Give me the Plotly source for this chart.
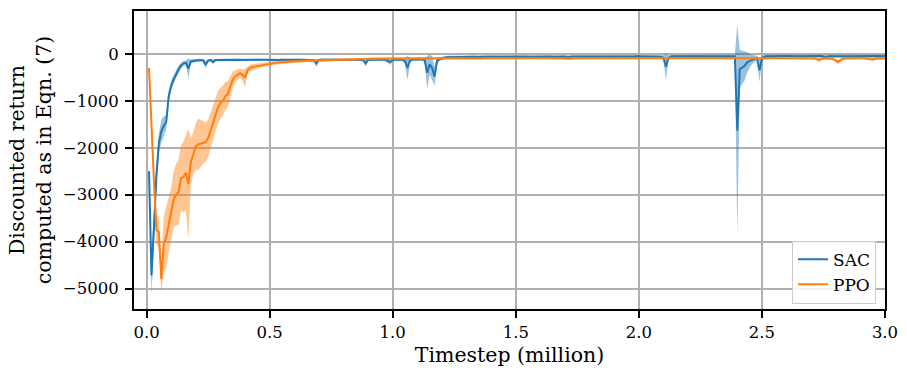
import numpy as np
import plotly.graph_objects as go

# evaluation timesteps (million), every 0.01M from 0.01 to 3.00
timesteps = [round(0.01 * i, 2) for i in range(1, 301)]

sac_mean = [
    -2500, -4720, -3700, -2600, -1900, -1650, -1530, -1450, -900, -680,
    -540, -420, -330, -250, -200, -190, -310, -160, -145, -140,
    -132, -130, -135, -230, -140, -130, -170, -130, -128, -126,
    -125, -127, -124, -126, -125, -128, -124, -125, -127, -124,
    -125, -126, -123, -127, -125, -124, -126, -128, -125, -127,
    -126, -124, -125, -127, -124, -126, -125, -123, -126, -125,
    -124, -126, -125, -123, -127, -125, -140, -135, -200, -130,
    -125, -123, -126, -124, -122, -125, -123, -124, -126, -122,
    -123, -121, -124, -122, -120, -123, -125, -130, -200, -125,
    -120, -122, -118, -121, -119, -122, -125, -150, -170, -130,
    -120, -118, -122, -125, -150, -300, -140, -120, -118, -115,
    -118, -115, -130, -400, -220, -300, -480, -150, -110, -90,
    -80, -70, -68, -65, -66, -64, -65, -63, -62, -64,
    -62, -63, -61, -64, -60, -62, -63, -61, -60, -62,
    -61, -60, -62, -59, -61, -60, -58, -60, -61, -59,
    -58, -57, -59, -56, -57, -55, -58, -56, -55, -57,
    -55, -56, -54, -55, -57, -54, -56, -53, -55, -54,
    -70, -54, -53, -55, -52, -54, -53, -52, -54, -53,
    -52, -53, -51, -52, -54, -51, -52, -50, -53, -51,
    -50, -52, -51, -50, -49, -51, -50, -52, -49, -50,
    -49, -50, -51, -49, -50, -48, -50, -49, -60, -80,
    -270, -90, -55, -50, -49, -51, -50, -48, -49, -50,
    -49, -48, -50, -49, -47, -49, -48, -50, -48, -47,
    -48, -47, -49, -48, -47, -48, -46, -48, -50, -1630,
    -320, -290, -250, -180, -150, -120, -100, -90, -350, -100,
    -60, -50, -48, -49, -47, -48, -46, -48, -47, -49,
    -47, -46, -48, -47, -46, -48, -47, -46, -48, -47,
    -46, -47, -48, -46, -55, -70, -50, -47, -46, -48,
    -47, -46, -48, -47, -46, -45, -47, -46, -48, -47,
    -46, -47, -45, -46, -48, -47, -46, -45, -47, -46,
]

sac_std = [
    60, 420, 350, 250, 200, 250, 200, 150, 120, 100,
    90, 90, 80, 60, 50, 50, 220, 40, 35, 30,
    30, 30, 30, 80, 30, 30, 50, 25, 25, 25,
    24, 22, 23, 25, 22, 24, 23, 22, 24, 23,
    22, 24, 23, 22, 24, 23, 22, 24, 23, 22,
    24, 23, 22, 24, 23, 22, 24, 23, 22, 24,
    23, 22, 24, 23, 25, 24, 40, 30, 80, 30,
    24, 23, 22, 24, 23, 22, 24, 23, 22, 24,
    23, 22, 24, 23, 22, 24, 26, 30, 70, 30,
    24, 23, 22, 24, 23, 22, 30, 50, 60, 35,
    26, 24, 25, 30, 60, 260, 50, 30, 26, 25,
    26, 25, 60, 350, 220, 250, 200, 80, 40, 35,
    32, 30, 30, 28, 30, 28, 30, 28, 30, 29,
    30, 28, 30, 29, 28, 30, 29, 28, 30, 28,
    29, 30, 28, 30, 29, 28, 30, 28, 29, 30,
    28, 29, 30, 28, 29, 30, 28, 29, 30, 28,
    29, 30, 28, 29, 30, 28, 29, 30, 28, 29,
    40, 28, 29, 30, 28, 29, 30, 28, 29, 30,
    28, 29, 30, 28, 29, 30, 28, 29, 30, 28,
    29, 30, 28, 29, 30, 28, 29, 30, 28, 29,
    30, 28, 29, 30, 28, 29, 30, 28, 35, 50,
    290, 60, 32, 30, 28, 29, 30, 28, 29, 30,
    28, 29, 30, 28, 29, 30, 28, 29, 30, 28,
    29, 30, 28, 29, 30, 28, 29, 30, 35, 2260,
    405, 360, 310, 220, 150, 100, 70, 50, 250, 60,
    40, 32, 30, 28, 29, 30, 28, 29, 30, 28,
    29, 30, 28, 29, 30, 28, 29, 30, 28, 29,
    30, 28, 29, 30, 35, 45, 30, 28, 29, 30,
    28, 29, 30, 28, 29, 30, 28, 29, 30, 28,
    29, 30, 28, 29, 30, 28, 29, 30, 28, 29,
]

ppo_mean = [
    -300, -1700, -2700, -3750, -3800, -4800, -4050, -3900, -3650, -3400,
    -3100, -3000, -2950, -2650, -2620, -2530, -2770, -2300, -2120, -1970,
    -1930, -1910, -1890, -1880, -1800, -1650, -1480, -1300, -1140, -1050,
    -1000, -900, -860, -700, -550, -480, -440, -410, -450, -510,
    -350, -300, -280, -270, -260, -250, -230, -220, -210, -200,
    -195, -190, -185, -180, -178, -175, -170, -168, -165, -160,
    -155, -150, -148, -145, -142, -140, -138, -135, -133, -130,
    -128, -127, -125, -124, -122, -120, -119, -118, -117, -116,
    -115, -114, -112, -110, -110, -108, -107, -106, -105, -104,
    -103, -102, -100, -100, -99, -98, -97, -97, -96, -95,
    -95, -94, -96, -93, -95, -94, -92, -95, -93, -94,
    -92, -94, -93, -95, -92, -94, -93, -92, -94, -93,
    -92, -93, -94, -92, -93, -91, -93, -92, -94, -92,
    -93, -92, -91, -93, -92, -94, -92, -91, -93, -92,
    -91, -92, -93, -91, -92, -90, -92, -93, -91, -92,
    -90, -91, -92, -90, -91, -93, -90, -91, -92, -90,
    -91, -90, -92, -91, -90, -92, -91, -90, -92, -91,
    -95, -100, -92, -90, -91, -90, -92, -91, -90, -92,
    -90, -91, -92, -90, -91, -90, -92, -91, -90, -91,
    -90, -92, -91, -90, -91, -92, -90, -91, -90, -92,
    -91, -90, -92, -91, -90, -91, -92, -90, -91, -90,
    -92, -91, -90, -92, -91, -90, -91, -92, -90, -91,
    -90, -91, -92, -90, -91, -90, -92, -91, -90, -91,
    -92, -90, -91, -90, -92, -91, -90, -91, -92, -90,
    -91, -90, -92, -91, -90, -91, -92, -90, -91, -90,
    -91, -92, -90, -91, -90, -92, -91, -90, -91, -92,
    -90, -91, -92, -90, -91, -90, -92, -95, -93, -92,
    -95, -100, -130, -110, -95, -92, -95, -100, -110, -140,
    -170, -130, -100, -95, -92, -95, -94, -93, -95, -92,
    -93, -95, -100, -110, -120, -100, -95, -93, -94, -95,
]

ppo_std = [
    30, 150, 200, 300, 350, 300, 600, 650, 600, 550,
    600, 650, 700, 700, 750, 800, 1180, 500, 450, 500,
    550, 500, 450, 420, 400, 380, 370, 360, 350, 330,
    320, 300, 280, 220, 180, 130, 110, 100, 120, 200,
    80, 70, 60, 60, 55, 50, 50, 48, 46, 45,
    44, 42, 40, 40, 38, 38, 36, 35, 35, 34,
    33, 33, 32, 32, 31, 31, 30, 30, 30, 29,
    29, 28, 28, 28, 27, 27, 27, 26, 26, 26,
    25, 25, 25, 24, 24, 24, 23, 23, 23, 22,
    22, 22, 21, 21, 21, 20, 20, 20, 20, 20,
    20, 19, 20, 18, 20, 19, 18, 20, 19, 18,
    20, 19, 18, 20, 19, 18, 20, 19, 18, 20,
    19, 18, 20, 19, 18, 20, 19, 18, 20, 19,
    18, 20, 19, 18, 20, 19, 18, 20, 19, 18,
    20, 19, 18, 20, 19, 18, 20, 19, 18, 20,
    19, 18, 20, 19, 18, 20, 19, 18, 20, 19,
    18, 20, 19, 18, 20, 19, 18, 20, 19, 18,
    25, 30, 19, 18, 20, 19, 18, 20, 19, 18,
    20, 19, 18, 20, 19, 18, 20, 19, 18, 20,
    19, 18, 20, 19, 18, 20, 19, 18, 20, 19,
    18, 20, 19, 18, 20, 19, 18, 20, 19, 18,
    20, 19, 18, 20, 19, 18, 20, 19, 18, 20,
    19, 18, 20, 19, 18, 20, 19, 18, 20, 19,
    18, 20, 19, 18, 20, 19, 18, 20, 19, 18,
    20, 19, 18, 20, 19, 18, 20, 19, 18, 20,
    19, 18, 20, 19, 18, 20, 19, 18, 20, 19,
    18, 20, 19, 18, 20, 19, 18, 22, 21, 20,
    22, 25, 40, 30, 22, 20, 22, 25, 30, 40,
    45, 35, 25, 22, 20, 22, 21, 20, 22, 20,
    21, 22, 25, 30, 35, 25, 22, 20, 21, 22,
]

x_ticks = [0.0, 0.5, 1.0, 1.5, 2.0, 2.5, 3.0]
y_ticks = [-5000, -4000, -3000, -2000, -1000, 0]

series = [
    ("SAC", sac_mean, sac_std, "#1f77b4", "rgba(31,119,180,0.45)"),
    ("PPO", ppo_mean, ppo_std, "#ff7f0e", "rgba(255,127,14,0.45)"),
]

fig = go.Figure()
for name, mean, std, color, fill in series:
    m = np.array(mean, dtype=float)
    s = np.array(std, dtype=float)
    upper = m + s
    lower = m - s
    fig.add_trace(go.Scatter(
        x=timesteps, y=mean, mode="lines", name=name,
        line=dict(color=color, width=2),
    ))
    fig.add_trace(go.Scatter(
        x=list(timesteps) + list(timesteps)[::-1],
        y=list(upper) + list(lower)[::-1],
        fill="toself", fillcolor=fill, mode="lines",
        line=dict(width=0, color=fill), showlegend=False, hoverinfo="skip",
    ))

font_family = "DejaVu Serif"
fig.update_layout(
    width=907, height=374, autosize=False,
    margin=dict(l=134, r=15, t=9, b=65),
    paper_bgcolor="white", plot_bgcolor="white",
    font=dict(family=font_family, size=16.5, color="black"),
    showlegend=True,
    legend=dict(
        x=0.988, y=0.018, xanchor="right", yanchor="bottom",
        bgcolor="rgba(255,255,255,0.85)", bordercolor="#cccccc", borderwidth=1,
        font=dict(family=font_family, size=17),
        tracegroupgap=2,
    ),
)
fig.update_xaxes(
    range=[-0.051, 3.0], tickvals=x_ticks, ticktext=[f"{v:.1f}" for v in x_ticks],
    tickfont=dict(size=16.5),
    showgrid=True, gridcolor="#b0b0b0", gridwidth=1.6,
    showline=True, linecolor="black", linewidth=2, mirror=True,
    ticks="outside", ticklen=7, tickwidth=2, tickcolor="black",
    zeroline=False,
    title=dict(text="Timestep (million)", font=dict(size=20.5), standoff=7),
)
fig.update_yaxes(
    range=[-5437, 916], tickvals=y_ticks, ticktext=[str(v).replace("-", "\u2212") for v in y_ticks],
    tickfont=dict(size=16.5), ticklabelstandoff=3,
    showgrid=True, gridcolor="#b0b0b0", gridwidth=1.6,
    showline=True, linecolor="black", linewidth=2, mirror=True,
    ticks="outside", ticklen=7, tickwidth=2, tickcolor="black",
    zeroline=False,
    title=dict(text="Discounted return<br>computed as in Eqn. (7)", font=dict(size=20.5), standoff=6),
)

# remove the default page margin / scrollbar so the figure sits at the window's top-left corner
post_js = (
    "document.body.style.margin='0';"
    "document.body.style.overflow='hidden';"
    "var gd=document.getElementById('{plot_id}');"
    "Plotly.relayout(gd,{width:907,height:374});"
)
fig.write_html(
    "out.html",
    config=dict(displayModeBar=False, responsive=False),
    post_script=post_js,
)
